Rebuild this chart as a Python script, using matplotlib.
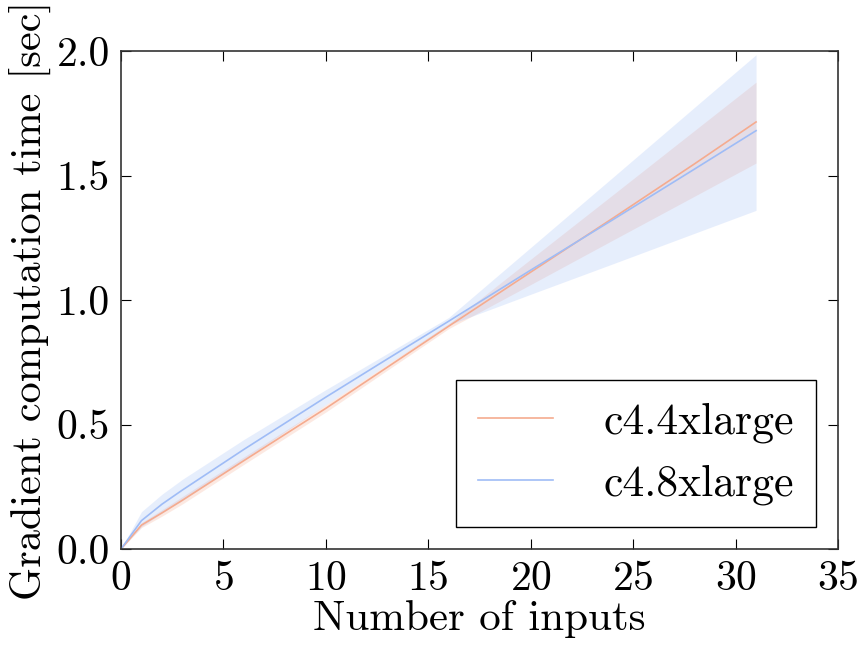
import numpy as np
import matplotlib
matplotlib.use('Agg')
import matplotlib.pyplot as plt

# number of inputs
n_inputs = [0, 1, 2, 3, 6, 10, 13, 16, 20, 24, 28, 31]

# mean gradient time [sec] and band limits
c44_mean = [0.0, 0.096, 0.145, 0.196, 0.355, 0.565, 0.730, 0.895, 1.112, 1.328, 1.547, 1.715]
c44_low = [0.0, 0.086, 0.132, 0.181, 0.340, 0.550, 0.718, 0.885, 1.062, 1.240, 1.417, 1.550]
c44_high = [0.0, 0.106, 0.158, 0.211, 0.370, 0.580, 0.742, 0.905, 1.164, 1.422, 1.681, 1.875]

c48_mean = [0.0, 0.114, 0.180, 0.237, 0.400, 0.610, 0.763, 0.915, 1.120, 1.322, 1.526, 1.680]
c48_low = [0.0, 0.090, 0.145, 0.195, 0.360, 0.580, 0.742, 0.900, 1.023, 1.145, 1.268, 1.360]
c48_high = [0.0, 0.150, 0.220, 0.280, 0.440, 0.640, 0.785, 0.930, 1.211, 1.492, 1.774, 1.985]

labels = ['c4.4xlarge', 'c4.8xlarge']
colors = ['#f5ab8f', '#9fbcf6']

plt.rcParams['font.family'] = 'cmr10'
plt.rcParams['axes.formatter.use_mathtext'] = True
plt.rcParams['mathtext.fontset'] = 'cm'

fig = plt.figure(figsize=(8.59, 6.45), dpi=100)
ax = fig.add_axes([121/859, 1 - 549/645, 717/859, 498/645])

series = [(c44_mean, c44_low, c44_high), (c48_mean, c48_low, c48_high)]
for (m, lo, hi), lab, col in zip(series, labels, colors):
    ax.plot(n_inputs, m, color=col, lw=1.2, label=lab)
    ax.fill_between(n_inputs, lo, hi, color=col, alpha=0.25, lw=0)

ax.set_xlim(0, 35)
ax.set_ylim(0, 2.0)
ax.set_xticks(np.arange(0, 36, 5))
ax.set_yticks([0.0, 0.5, 1.0, 1.5, 2.0])
ax.set_yticklabels(['0.0', '0.5', '1.0', '1.5', '2.0'])
ax.tick_params(direction='in', top=True, right=True, labelsize=30, length=7, pad=8)
for s in ax.spines.values():
    s.set_color('#333333')
    s.set_linewidth(1.2)

ax.set_xlabel('Number of inputs', fontsize=31, labelpad=2)
ax.set_ylabel('Gradient computation time [sec]', fontsize=30.5, labelpad=4)

leg = ax.legend(loc='lower right', fontsize=31.5, fancybox=False, framealpha=1,
                borderaxespad=0.5, borderpad=0.5, labelspacing=0.5,
                handlelength=1.7, handletextpad=1.17)
leg.get_frame().set_edgecolor('black')

fig.savefig('out.png', dpi=100)
